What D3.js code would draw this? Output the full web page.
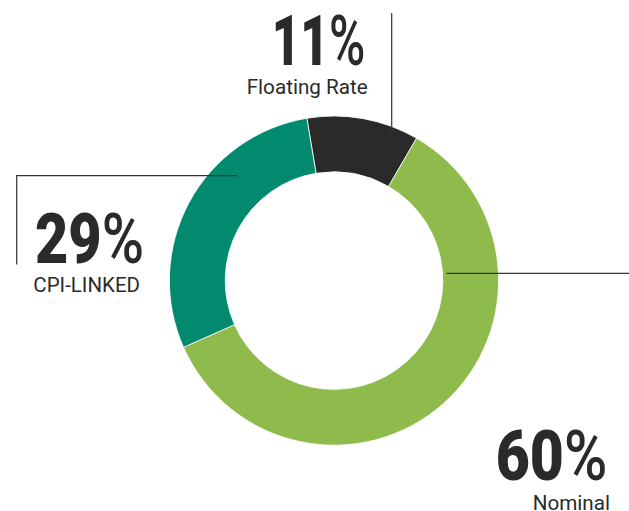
<!DOCTYPE html>
<html><head><meta charset="utf-8">
<script src="https://cdn.jsdelivr.net/npm/d3@7"></script>
<style>html,body{margin:0;padding:0;background:#fff;}svg{display:block;}</style>
</head><body>
<svg id="chart" width="629" height="511"></svg>
<script>
const categories = ["Floating Rate", "Nominal", "CPI-LINKED"];
const values = [11, 60, 29];
const pctLabels = ["11", "60", "29"];
const colors = ["#2a2a2a", "#8fba4c", "#028a6f"];

const svg = d3.select("#chart");
const cx = 334, cy = 280.6, rOuter = 164.6, rInner = 108.8;
const start = -9.5 * Math.PI / 180;

const pie = d3.pie().sort(null).value(d => d).startAngle(start).endAngle(start + 2 * Math.PI);
const arc = d3.arc().innerRadius(rInner).outerRadius(rOuter);
const arcs = pie(values);

const g = svg.append("g").attr("transform", `translate(${cx},${cy})`);
g.selectAll("path").data(arcs).join("path")
  .attr("d", arc)
  .attr("fill", (d, i) => colors[i])
  .attr("stroke", "#fff").attr("stroke-width", 0.8);

// leader lines
const lc = "#333";
svg.append("path").attr("d", "M391.7,13 V133.5").attr("stroke", lc).attr("stroke-width", 1.2).attr("fill", "none");
svg.append("path").attr("d", "M16.7,264.5 V175.7 H237").attr("stroke", lc).attr("stroke-width", 1.2).attr("fill", "none");
svg.append("path").attr("d", "M446.5,273.3 H629").attr("stroke", lc).attr("stroke-width", 1.2).attr("fill", "none");

// labels
const labelPos = [
  {bx: 271.7, bw: 93.5, by: 65, nx: 246.7, nw: 121, ny: 94.3},
  {bx: 495.7, bw: 111.6, by: 480, nx: 532.7, nw: 77.3, ny: 510},
  {bx: 35, bw: 109, by: 262.7, nx: 33.3, nw: 106.7, ny: 292.3}
];
categories.forEach((c, i) => {
  const p = labelPos[i];
  const t = svg.append("text").attr("x", p.bx).attr("y", p.by)
    .attr("font-family", "Roboto, 'DejaVu Sans', sans-serif")
    .attr("font-size", 70).attr("fill", "#2a2a2a")
    .attr("textLength", p.bw).attr("lengthAdjust", "spacingAndGlyphs");
  t.append("tspan").attr("font-weight", 900).text(pctLabels[i]);
  t.append("tspan").attr("font-weight", 500).text("%");
  svg.append("text").attr("x", p.nx).attr("y", p.ny)
    .attr("font-family", "Roboto, 'DejaVu Sans', sans-serif").attr("font-weight", 400)
    .attr("font-size", 20).attr("fill", "#2a2a2a")
    .attr("textLength", p.nw).attr("lengthAdjust", "spacingAndGlyphs")
    .text(c);
});
</script>
</body></html>
